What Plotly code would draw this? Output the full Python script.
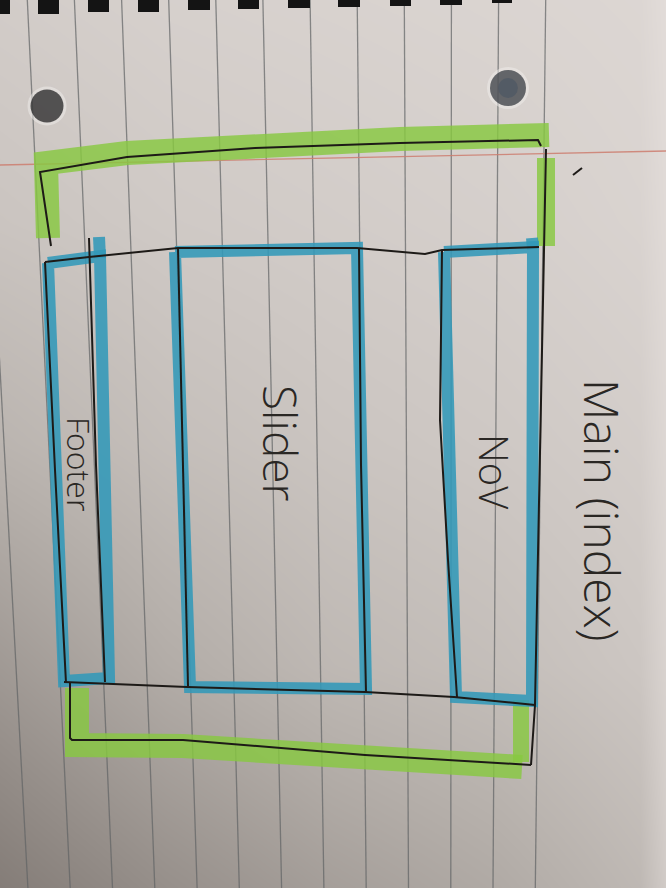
import plotly.graph_objects as go

# ---------------- data (pixel space of 666x888) ----------------
# paper shading (brightness) on a coarse grid
BG_X = [0, 166, 333, 500, 640, 666]
BG_Y = [0, 222, 444, 666, 888]
BG_Z = [
    [208, 212, 214, 216, 218, 224],
    [200, 205, 208, 211, 215, 222],
    [184, 194, 200, 204, 209, 219],
    [158, 176, 188, 194, 202, 215],
    [130, 148, 163, 174, 188, 207],
]

# ruled lines (x at top edge, x at bottom edge)
RULE_X_TOP = [545.7, 498.6, 451.4, 404.3, 357.2, 310.1, 262.9, 215.8, 168.7, 121.6, 74.4, 27.3, -19.8]
RULE_X_BOT = [535.3, 493.0, 450.8, 408.5, 366.2, 323.9, 281.6, 239.3, 197.1, 154.8, 112.5, 70.2, 27.9]

# red margin line
MARGIN_X = [0, 666]
MARGIN_Y = [165, 151]

# spiral perforations along the top edge
PERF_X0 = [0, 38, 88, 138, 188, 238, 288, 338, 390, 440, 492]
PERF_X1 = [10, 59, 109, 159, 210, 259, 310, 360, 411, 462, 512]
PERF_H = [14, 14, 12, 12, 10, 9, 8, 7, 6, 5, 3]

# punched holes
HOLE_X = [47, 508]
HOLE_Y = [106, 88]
HOLE_D = [33, 36]

# green highlighter strokes
GREEN_TOP_X = [48, 46, 127, 255, 400, 549]
GREEN_TOP_Y = [238, 163, 153, 145, 139, 135]
GREEN_R_X = [546, 546]
GREEN_R_Y = [158, 246]
GREEN_BOT_X = [77, 77, 183, 365, 522]
GREEN_BOT_Y = [688, 745, 746, 758, 767]
GREEN_BR_X = [521, 521]
GREEN_BR_Y = [700, 762]

# blue highlighter boxes (TL, TR, BR, BL)
FOOTER_X = [48, 100, 109, 64]
FOOTER_Y = [263, 256, 678, 681]
SLIDER_X = [175, 357, 366, 190]
SLIDER_Y = [252, 248, 689, 687]
NAV_X = [444, 533, 532, 456]
NAV_Y = [252, 247, 701, 697]
BLUE_EXT_X = [[99, 100], [532, 533]]
BLUE_EXT_Y = [[237, 258], [238, 249]]

# black pen strokes
PEN = {
    "top_bracket": ([51, 40, 127, 255, 400, 538, 541], [246, 172, 157, 148, 143, 140, 146]),
    "right_side": ([546, 544, 540, 535, 531], [149, 250, 465, 705, 765]),
    "inner_top": ([45, 89, 178, 357, 425, 442, 539], [262, 257, 248, 248, 254, 250, 247]),
    "inner_bottom": ([64, 187, 365, 454, 535], [682, 687, 692, 697, 705]),
    "bottom_bracket": ([70, 70, 72, 183, 365, 531], [683, 738, 740, 740, 755, 765]),
    "footer_left": ([45, 55, 66], [262, 470, 683]),
    "footer_right": ([89, 96, 105], [238, 465, 682]),
    "slider_left": ([178, 183, 188], [248, 465, 686]),
    "slider_right": ([359, 361, 366], [248, 465, 692]),
    "nav_left": ([442, 440, 448, 457], [250, 420, 560, 697]),
    "dash": ([573, 582], [175, 168]),
}

# labels
LABELS = ["Main (index)", "NoV", "Slider", "Footer"]
LABEL_X = [603, 495, 281, 80]
LABEL_Y = [510, 472, 443, 464]
LABEL_SIZE = [48, 40, 46, 32]

# ---------------- build figure ----------------
fig = go.Figure()

fig.add_trace(go.Heatmap(
    x=BG_X, y=BG_Y, z=BG_Z, zsmooth="best", showscale=False, hoverinfo="skip",
    zmin=110, zmax=226,
    colorscale=[[0, "rgb(112,104,99)"], [0.6, "rgb(182,176,171)"], [1, "rgb(228,222,219)"]],
))

rx, ry = [], []
for t, b in zip(RULE_X_TOP, RULE_X_BOT):
    rx += [t, b, None]
    ry += [0, 888, None]
fig.add_trace(go.Scatter(x=rx, y=ry, mode="lines", line=dict(color="rgba(95,98,100,0.7)", width=1.3),
                         hoverinfo="skip"))

fig.add_trace(go.Scatter(x=MARGIN_X, y=MARGIN_Y, mode="lines",
                         line=dict(color="rgba(205,125,110,0.85)", width=1.3), hoverinfo="skip"))

for x0, x1, h in zip(PERF_X0, PERF_X1, PERF_H):
    fig.add_trace(go.Scatter(x=[x0, x1, x1, x0, x0], y=[0, 0, h, h, 0], mode="lines", fill="toself",
                             fillcolor="#141414", line=dict(width=0), hoverinfo="skip"))

fig.add_trace(go.Scatter(x=HOLE_X, y=HOLE_Y, mode="markers",
                         marker=dict(size=[d + 6 for d in HOLE_D], color="rgba(240,238,236,0.7)", line=dict(width=0)),
                         hoverinfo="skip"))
fig.add_trace(go.Scatter(x=HOLE_X, y=HOLE_Y, mode="markers",
                         marker=dict(size=HOLE_D, color=["#161617", "#2c3138"], line=dict(width=0)),
                         hoverinfo="skip"))
fig.add_trace(go.Scatter(x=HOLE_X[1:], y=HOLE_Y[1:], mode="markers",
                         marker=dict(size=[d * 0.55 for d in HOLE_D[1:]], color="#4d5764", line=dict(width=0)),
                         hoverinfo="skip"))

green = "rgba(135,200,65,0.82)"
for gx, gy, w in [(GREEN_TOP_X, GREEN_TOP_Y, 24), (GREEN_R_X, GREEN_R_Y, 18),
                  (GREEN_BOT_X, GREEN_BOT_Y, 24), (GREEN_BR_X, GREEN_BR_Y, 16)]:
    fig.add_trace(go.Scatter(x=gx, y=gy, mode="lines", line=dict(color=green, width=w),
                             hoverinfo="skip"))

blue = "rgba(50,152,184,0.88)"
for bx, by in [(FOOTER_X, FOOTER_Y), (SLIDER_X, SLIDER_Y), (NAV_X, NAV_Y)]:
    fig.add_trace(go.Scatter(x=bx + bx[:1], y=by + by[:1], mode="lines",
                             line=dict(color=blue, width=12), hoverinfo="skip"))
for ex, ey in zip(BLUE_EXT_X, BLUE_EXT_Y):
    fig.add_trace(go.Scatter(x=ex, y=ey, mode="lines", line=dict(color=blue, width=12),
                             hoverinfo="skip"))

for name, (px, py) in PEN.items():
    fig.add_trace(go.Scatter(x=px, y=py, mode="lines", line=dict(color="#1d1a17", width=2),
                             hoverinfo="skip"))

for txt, lx, ly, sz in zip(LABELS, LABEL_X, LABEL_Y, LABEL_SIZE):
    fig.add_annotation(x=lx, y=ly, xref="x", yref="y", text=txt, showarrow=False, textangle=90,
                       font=dict(family="Open Sans", size=sz, color="#2a2724", weight=300))

fig.update_layout(
    width=666, height=888, margin=dict(l=0, r=0, t=0, b=0),
    paper_bgcolor="#d6d1cd", plot_bgcolor="#d6d1cd", showlegend=False,
    xaxis=dict(range=[0, 666], visible=False, fixedrange=True),
    yaxis=dict(range=[888, 0], visible=False, fixedrange=True),
)

fig.write_html(
    "out.html",
    config={"displayModeBar": False},
    post_script="document.body.style.margin='0';document.body.style.padding='0';"
                "document.body.style.overflow='hidden';document.body.style.background='#d6d1cd';",
)
